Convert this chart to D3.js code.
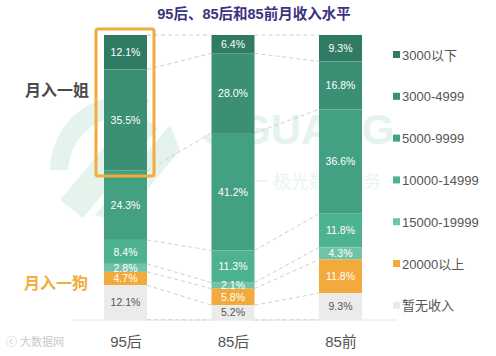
<!DOCTYPE html>
<html><head><meta charset="utf-8">
<script src="https://cdn.jsdelivr.net/npm/d3@7"></script>
<style>
html,body{margin:0;padding:0;background:#fff;}
svg{display:block;font-family:"Liberation Sans","Noto Sans CJK SC",sans-serif;}
</style></head>
<body><svg id="c" width="496" height="356"></svg>
<script>
const categories = ["95后", "85后", "85前"];
const seriesNames = ["3000以下", "3000-4999", "5000-9999", "10000-14999", "15000-19999", "20000以上", "暂无收入"];
const v3000below = [12.1, 6.4, 9.3];
const v3000_4999 = [35.5, 28.0, 16.8];
const v5000_9999 = [24.3, 41.2, 36.6];
const v10000_14999 = [8.4, 11.3, 11.8];
const v15000_19999 = [2.8, 2.1, 4.3];
const v20000above = [4.7, 5.8, 11.8];
const vNoIncome = [12.1, 5.2, 9.3];
const seriesValues = [v3000below, v3000_4999, v5000_9999, v10000_14999, v15000_19999, v20000above, vNoIncome];
const colors = ["#2f7b63", "#3a8f74", "#43a083", "#4db290", "#72c3a6", "#f2aa3c", "#ebebeb"];
const title = "95后、85后和85前月收入水平";

const svg = d3.select("#c");

// watermark
const wm = svg.append("g").attr("fill", "#e5f3ed");
wm.append("path").attr("d", "M60,200 L135,110 L158,128 L83,218 Z");
wm.append("path").attr("d", "M95,215 L170,125 L180,150 L120,222 Z");
wm.append("path").attr("d", "M50,170 A75,75 0 0 1 150,100 L140,118 A57,57 0 0 0 68,170 Z");
wm.append("text").attr("x", 203).attr("y", 144).attr("font-size", 42).attr("font-weight", "bold")
  .text("JIGUANG");
wm.append("text").attr("x", 250).attr("y", 188).attr("font-size", 18).attr("fill", "#eaf5f0")
  .text("一 极光数据服务");

const x = d3.scalePoint().domain(categories).range([125.5, 340.5]);
const barW = 43;
const y = d3.scaleLinear().domain([0, 100]).range([35, 320]);

// stacked data (from top)
const stacks = categories.map((c, i) => {
  let cum = 0;
  return seriesValues.map((s, k) => {
    const seg = {cat: c, k: k, v: s[i], y0: cum, y1: cum + s[i]};
    cum += s[i];
    return seg;
  });
});

// baseline
svg.append("line").attr("x1", 72).attr("x2", 397).attr("y1", y(100)).attr("y2", y(100))
  .attr("stroke", "#e6e6e6").attr("stroke-width", 1);

// connectors
const conn = svg.append("g").attr("stroke", "#cfcfcf").attr("stroke-dasharray", "4,3").attr("fill", "none");
for (let i = 0; i < categories.length - 1; i++) {
  const a = stacks[i], b = stacks[i + 1];
  const bounds = [0].concat(a.map(d => d.y1));
  const boundsB = [0].concat(b.map(d => d.y1));
  bounds.forEach((v, k) => {
    conn.append("line")
      .attr("x1", x(categories[i]) + barW / 2).attr("y1", y(Math.min(v, 100)))
      .attr("x2", x(categories[i + 1]) - barW / 2).attr("y2", y(Math.min(boundsB[k], 100)));
  });
}

// bars
const g = svg.append("g");
stacks.forEach(st => {
  st.forEach(d => {
    g.append("rect").attr("x", x(d.cat) - barW / 2).attr("y", y(d.y0))
      .attr("width", barW).attr("height", y(d.y1) - y(d.y0)).attr("fill", colors[d.k]);
  });
  st.forEach(d => {
    g.append("text").attr("x", x(d.cat)).attr("y", y((d.y0 + d.y1) / 2)).attr("dy", "0.36em")
      .attr("text-anchor", "middle").attr("font-size", 10.5)
      .attr("fill", d.k === 6 ? "#555" : "#fff").text(d.v.toFixed(1) + "%");
  });
});

// axis
const ax = svg.append("g").attr("transform", "translate(0,336)")
  .call(d3.axisBottom(x).tickSize(0).tickPadding(0));
ax.select(".domain").remove();
ax.selectAll("text").attr("font-size", 15).attr("fill", "#555").attr("font-family", "Liberation Sans, Noto Sans CJK SC, sans-serif");

// orange box
svg.append("rect").attr("x", 96).attr("y", 29).attr("width", 58).attr("height", 147).attr("rx", 2)
  .attr("fill", "none").attr("stroke", "#f2ac3c").attr("stroke-width", 3);

// annotations
svg.append("text").attr("x", 57).attr("y", 90).attr("dy", "0.35em").attr("text-anchor", "middle")
  .attr("font-size", 16).attr("font-weight", "bold").attr("fill", "#4a4a4a").text("月入一姐");
svg.append("text").attr("x", 56).attr("y", 283).attr("dy", "0.35em").attr("text-anchor", "middle")
  .attr("font-size", 16).attr("font-weight", "bold").attr("fill", "#f2ac3c").text("月入一狗");

// title
svg.append("text").attr("x", 254).attr("y", 14).attr("dy", "0.35em").attr("text-anchor", "middle")
  .attr("font-size", 14.5).attr("font-weight", "bold").attr("fill", "#3b3380").text(title);

// legend
const lg = svg.append("g");
seriesNames.forEach((n, k) => {
  const ly = 55 + k * 41.8;
  lg.append("rect").attr("x", 393).attr("y", ly - 4).attr("width", 7).attr("height", 7).attr("fill", colors[k]);
  lg.append("text").attr("x", 402).attr("y", ly).attr("dy", "0.35em").attr("font-size", 13)
    .attr("fill", "#555").text(n);
});

// source watermark
svg.append("text").attr("x", 6).attr("y", 346).attr("font-size", 11).attr("fill", "#c8c8c8").text("ⓒ 大数据网");
</script></body></html>
